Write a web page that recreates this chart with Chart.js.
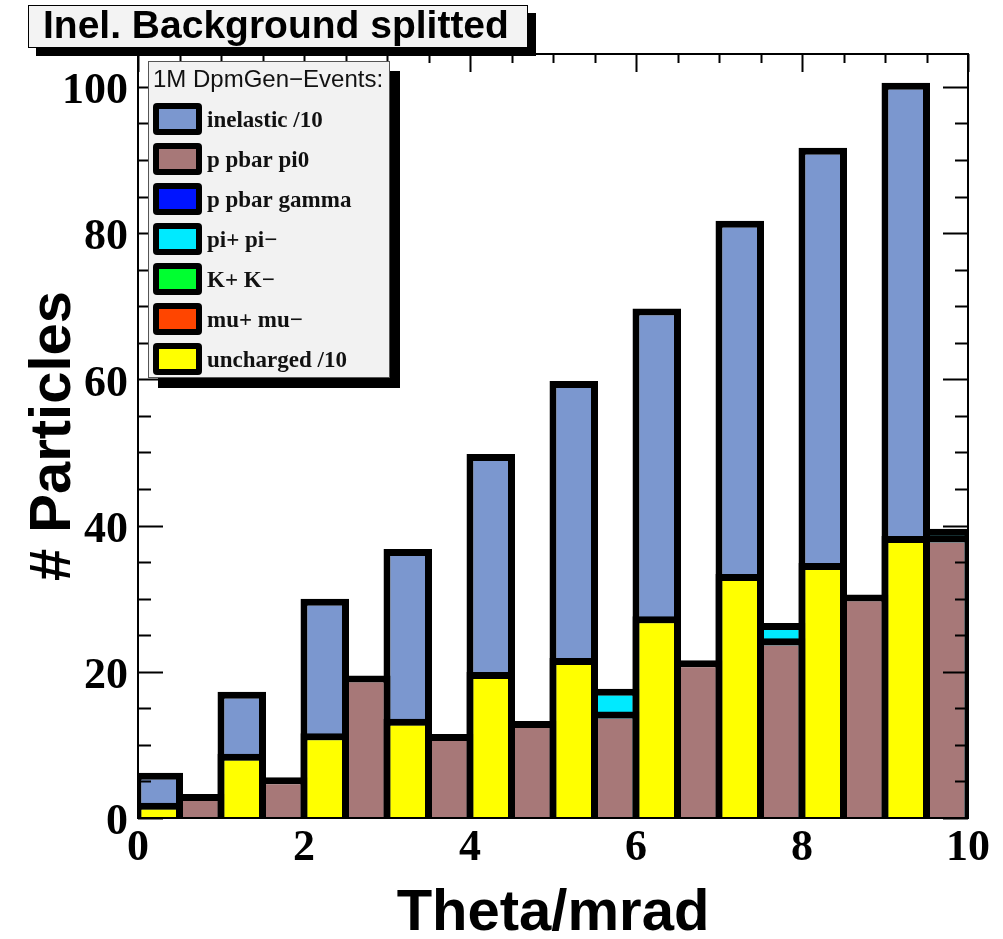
<!DOCTYPE html>
<html lang="en">
<head>
<meta charset="UTF-8">
<title>Inel. Background splitted</title>
<script src="https://cdn.jsdelivr.net/npm/chart.js"></script>
<style>
    html, body { margin: 0; padding: 0; background: #fff; }
    #wrap { width: 1003px; height: 939px; }
</style>
</head>
<body>
<div id="wrap"><canvas id="grafico" width="1003" height="939"></canvas></div>
<script>
// bin centres in mrad (bins are 0.5 mrad wide)
const binCenters = [0.25, 0.75, 1.25, 1.75, 2.25, 2.75, 3.25, 3.75, 4.25, 4.75,
                    5.25, 5.75, 6.25, 6.75, 7.25, 7.75, 8.25, 8.75, 9.25, 9.75];

// one value per bin, null = nothing drawn in that bin
const inelastic  = [5.7, null, 16.8, null, 29.5, null, 36.3, null, 49.3, null,
                    59.3, null, 69.2, null, 81.2, null, 91.2, null, 100.1, null];
const ppbarPi0   = [null, 2.8, null, 5.1, null, 19.0, null, 11.0, null, 12.8,
                    null, 14.1, null, 21.1, null, 24.1, null, 30.1, null, 38.2];
const ppbarGamma = [null, null, null, null, null, null, null, null, null, null,
                    null, null, null, null, null, null, null, null, null, null];
const pipi       = [null, null, null, null, null, null, null, null, null, null,
                    null, 17.2, null, null, null, 26.2, null, null, null, 39.1];
const kk         = [null, null, null, null, null, null, null, null, null, null,
                    null, null, null, null, null, null, null, null, null, null];
const mumu       = [null, null, null, null, null, null, null, null, null, null,
                    null, null, null, null, null, null, null, null, null, null];
const uncharged  = [1.6, null, 8.3, null, 11.1, null, 13.1, null, 19.5, null,
                    21.4, null, 27.1, null, 32.9, null, 34.4, null, 38.1, null];

const xTicks = [0, 2, 4, 6, 8, 10];
const yTicks = [0, 20, 40, 60, 80, 100];

const LINE = 7;          // thick ROOT outline
const SANS = '"Liberation Sans", Arial, sans-serif';
const SERIF = '"Liberation Serif", "Times New Roman", serif';

function pontos(valores) {
    const out = [];
    valores.forEach((v, i) => { if (v !== null) out.push({ x: binCenters[i], y: v }); });
    return out;
}

// order: lower number is painted on top
const datasets = [
    { label: 'inelastic /10', data: pontos(inelastic), backgroundColor: '#7b97cf', order: 6 },
    { label: 'p pbar pi0', data: pontos(ppbarPi0), backgroundColor: '#a77878', order: 1 },
    { label: 'p pbar gamma', data: pontos(ppbarGamma), backgroundColor: '#0014ff', order: 4 },
    { label: 'pi+ pi\u2212', data: pontos(pipi), backgroundColor: '#00eaff', order: 5 },
    { label: 'K+ K\u2212', data: pontos(kk), backgroundColor: '#00ff30', order: 3 },
    { label: 'mu+ mu\u2212', data: pontos(mumu), backgroundColor: '#ff4500', order: 2 },
    { label: 'uncharged /10', data: pontos(uncharged), backgroundColor: '#ffff00', order: 0 }
];

const rootStyle = {
    id: 'rootStyle',
    afterDatasetsUpdate(chart) {
        // ROOT centres the outline on the bin content: lift each bar half a line
        chart.data.datasets.forEach((ds, i) => {
            chart.getDatasetMeta(i).data.forEach(bar => { bar.y -= LINE / 2; });
        });
    },
    afterDatasetsDraw(chart) {
        const ctx = chart.ctx;
        const a = chart.chartArea;
        const xs = chart.scales.x, ys = chart.scales.y;
        ctx.save();
        ctx.strokeStyle = '#000';
        ctx.lineWidth = 2;
        ctx.strokeRect(a.left, a.top, a.right - a.left, a.bottom - a.top);
        // y ticks, inside, both sides
        for (let v = 0; v <= 104; v += 5) {
            const y = Math.round(ys.getPixelForValue(v)) + 0.5;
            const len = v % 20 === 0 ? 25 : 13;
            ctx.beginPath();
            ctx.moveTo(a.left, y); ctx.lineTo(a.left + len, y);
            ctx.moveTo(a.right, y); ctx.lineTo(a.right - len, y);
            ctx.stroke();
        }
        // x ticks on the top edge
        for (let v = 0; v <= 10; v += 0.5) {
            const x = Math.round(xs.getPixelForValue(v)) + 0.5;
            const len = v % 2 === 0 ? 18 : 9;
            ctx.beginPath();
            ctx.moveTo(x, a.top); ctx.lineTo(x, a.top + len);
            ctx.stroke();
        }
        ctx.restore();
    },
    afterDraw(chart) {
        const ctx = chart.ctx;
        ctx.save();
        // title box with shadow
        ctx.fillStyle = '#000';
        ctx.fillRect(36, 13, 500, 43);
        ctx.fillStyle = '#f3f3f3';
        ctx.fillRect(28, 5, 500, 43);
        ctx.strokeStyle = '#000';
        ctx.lineWidth = 1;
        ctx.strokeRect(28.5, 5.5, 499, 42);
        ctx.fillStyle = '#000';
        ctx.font = 'bold 39px ' + SANS;
        ctx.textBaseline = 'alphabetic';
        ctx.fillText('Inel. Background splitted', 43, 38);

        // legend box with shadow
        const L = 148, T = 61, W = 242, H = 317;
        ctx.fillStyle = '#000';
        ctx.fillRect(L + 10, T + 10, W, H);
        ctx.fillStyle = '#f2f2f2';
        ctx.fillRect(L, T, W, H);
        ctx.strokeStyle = '#555';
        ctx.lineWidth = 1;
        ctx.strokeRect(L + 0.5, T + 0.5, W - 1, H - 1);
        ctx.fillStyle = '#111';
        ctx.font = '24px ' + SANS;
        ctx.fillText('1M DpmGen\u2212Events:', 153, 87);

        ctx.font = 'bold 23px ' + SERIF;
        ctx.textBaseline = 'middle';
        chart.data.datasets.forEach((ds, i) => {
            const cy = 119 + i * 40;
            ctx.fillStyle = '#000';
            ctx.beginPath();
            ctx.roundRect(153, cy - 16, 49, 32, 4);
            ctx.fill();
            ctx.fillStyle = ds.backgroundColor;
            ctx.fillRect(159, cy - 10, 37, 20);
            ctx.fillStyle = '#111';
            ctx.fillText(ds.label, 207, cy + 2);
        });
        ctx.restore();
    }
};

new Chart(document.getElementById('grafico'), {
    type: 'bar',
    data: { datasets: datasets },
    options: {
        responsive: false,
        animation: false,
        devicePixelRatio: 1,
        layout: { padding: { top: 54, right: 35, left: 0, bottom: 0 } },
        datasets: {
            bar: {
                grouped: false,
                categoryPercentage: 1,
                barPercentage: 1 + LINE / 41.5,
                borderWidth: LINE,
                borderColor: '#000',
                borderSkipped: 'start'
            }
        },
        plugins: {
            legend: { display: false },
            tooltip: { enabled: false },
            title: { display: false }
        },
        scales: {
            x: {
                type: 'linear',
                offset: false,
                min: 0,
                max: 10,
                grid: { display: false, drawTicks: false },
                border: { display: false },
                afterBuildTicks(s) { s.ticks = xTicks.map(v => ({ value: v })); },
                ticks: {
                    padding: 4,
                    color: '#000',
                    font: { family: SERIF, weight: 'bold', size: 44, lineHeight: 1.2 }
                },
                title: {
                    display: true,
                    text: 'Theta/mrad',
                    color: '#000',
                    padding: 0,
                    font: { family: SANS, weight: 'bold', size: 58, lineHeight: 0.86 }
                },
                afterFit(s) { s.height = 121; }
            },
            y: {
                min: 0,
                max: 104.5,
                grid: { display: false, drawTicks: false },
                border: { display: false },
                afterBuildTicks(s) { s.ticks = yTicks.map(v => ({ value: v })); },
                ticks: {
                    padding: 10,
                    labelOffset: 5,
                    color: '#000',
                    font: { family: SERIF, weight: 'bold', size: 44, lineHeight: 1.2 }
                },
                title: {
                    display: true,
                    text: '# Particles',
                    color: '#000',
                    padding: 25,
                    font: { family: SANS, weight: 'bold', size: 58, lineHeight: 1 }
                },
                afterFit(s) { s.width = 138; }
            }
        }
    },
    plugins: [rootStyle]
});
</script>
</body>
</html>
